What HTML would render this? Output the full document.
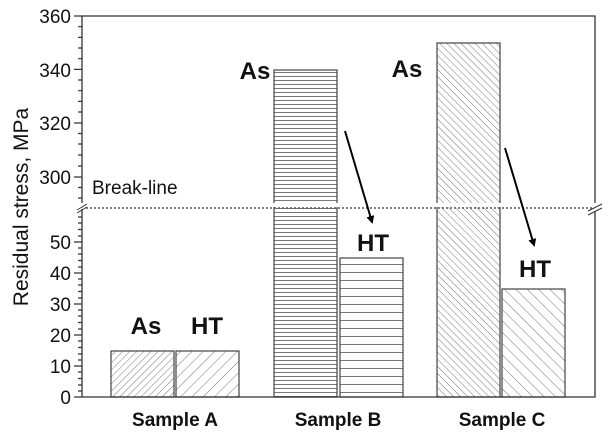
<!DOCTYPE html><html><head><style>body{margin:0;background:#fff}svg{display:block}</style></head><body>
<svg width="609" height="437" xmlns="http://www.w3.org/2000/svg" font-family="Liberation Sans, sans-serif">
<defs>
<pattern id="pa" width="5" height="5" patternUnits="userSpaceOnUse" patternTransform="rotate(45)"><line x1="0" y1="0" x2="0" y2="5" stroke="#777" stroke-width="1"/></pattern>
<pattern id="pa2" width="8" height="8" patternUnits="userSpaceOnUse" patternTransform="rotate(45)"><line x1="0" y1="0" x2="0" y2="8" stroke="#777" stroke-width="1"/></pattern>
<pattern id="pb" width="5" height="4" patternUnits="userSpaceOnUse"><line x1="0" y1="0.5" x2="5" y2="0.5" stroke="#777" stroke-width="1"/></pattern>
<pattern id="pb2" width="5" height="8" patternUnits="userSpaceOnUse"><line x1="0" y1="0.5" x2="5" y2="0.5" stroke="#777" stroke-width="1"/></pattern>
<pattern id="pc" width="5" height="5" patternUnits="userSpaceOnUse" patternTransform="rotate(-45)"><line x1="0" y1="0" x2="0" y2="5" stroke="#777" stroke-width="1"/></pattern>
<pattern id="pc2" width="8" height="8" patternUnits="userSpaceOnUse" patternTransform="rotate(-45)"><line x1="0" y1="0" x2="0" y2="8" stroke="#777" stroke-width="1"/></pattern>
<marker id="ar" markerWidth="8" markerHeight="8" refX="6" refY="4" orient="auto" markerUnits="userSpaceOnUse"><path d="M0,0 L8,4 L0,8 Z" fill="#000"/></marker>
</defs>
<g stroke="#444" stroke-width="1.2">
<rect x="111" y="351" width="63" height="46" fill="url(#pa)"/>
<rect x="176" y="351" width="63" height="46" fill="url(#pa2)"/>
<rect x="274" y="70" width="63" height="327" fill="url(#pb)"/>
<rect x="340" y="258" width="63" height="139" fill="url(#pb2)"/>
<rect x="437" y="43" width="63" height="354" fill="url(#pc)"/>
<rect x="502" y="289" width="63" height="108" fill="url(#pc2)"/>
</g>
<rect x="83" y="203" width="511" height="4" fill="#fff"/>
<line x1="86" y1="208" x2="592" y2="208" stroke="#555" stroke-width="1.5" stroke-dasharray="2,2"/>
<path d="M82,16 H595 V397 H82 Z" fill="none" stroke="#333" stroke-width="1.3"/>
<rect x="80" y="203" width="6" height="6" fill="#fff"/>
<line x1="77" y1="210" x2="87" y2="204" stroke="#333"/><line x1="77" y1="213" x2="87" y2="207" stroke="#333"/>
<rect x="592" y="203" width="6" height="8" fill="#fff"/>
<line x1="588" y1="211" x2="602" y2="204" stroke="#333"/><line x1="588" y1="215" x2="602" y2="208" stroke="#333"/>
<g stroke="#333" stroke-width="1.2">
<path d="M74,16H82M78,26.7H82M78,37.4H82M78,48H82M78,58.7H82M74,69.4H82M78,80H82M78,90.7H82M78,101.4H82M78,112H82M74,123H82M78,133.5H82M78,144H82M78,155H82M78,166H82M74,177H82M78,187.5H82M78,198H82"/>
<path d="M74,397H82M78,391H82M78,385H82M78,378.5H82M78,372H82M74,366H82M78,360H82M78,354H82M78,347.5H82M78,341H82M74,335H82M78,329H82M78,322.5H82M78,316H82M78,310H82M74,304H82M78,298H82M78,291.5H82M78,285H82M78,279H82M74,273H82M78,267H82M78,260.5H82M78,254H82M78,248H82M74,242H82M78,236H82M78,229.5H82M78,223H82M78,217H82"/>
</g>
<g font-size="19" fill="#111" text-anchor="end">
<text x="71" y="23">360</text><text x="71" y="77">340</text><text x="71" y="130">320</text><text x="71" y="184">300</text>
<text x="71" y="249">50</text><text x="71" y="280">40</text><text x="71" y="311">30</text><text x="71" y="342">20</text><text x="71" y="373">10</text><text x="71" y="404">0</text>
</g>
<text x="92" y="194" font-size="19" fill="#111">Break-line</text>
<text transform="translate(28,207) rotate(-90)" font-size="21" fill="#111" text-anchor="middle">Residual stress, MPa</text>
<g font-size="24" font-weight="bold" fill="#111" text-anchor="middle">
<text x="146" y="334">As</text><text x="207" y="334">HT</text>
<text x="255" y="79">As</text><text x="373" y="251">HT</text>
<text x="407" y="77">As</text><text x="535" y="277">HT</text>
</g>
<g font-size="19" font-weight="bold" fill="#111" text-anchor="middle">
<text x="175" y="426">Sample A</text><text x="338" y="426">Sample B</text><text x="502" y="426">Sample C</text>
</g>
<line x1="345" y1="131" x2="372" y2="222" stroke="#000" stroke-width="2" marker-end="url(#ar)"/>
<line x1="505" y1="148" x2="534" y2="245" stroke="#000" stroke-width="2" marker-end="url(#ar)"/>
</svg></body></html>
